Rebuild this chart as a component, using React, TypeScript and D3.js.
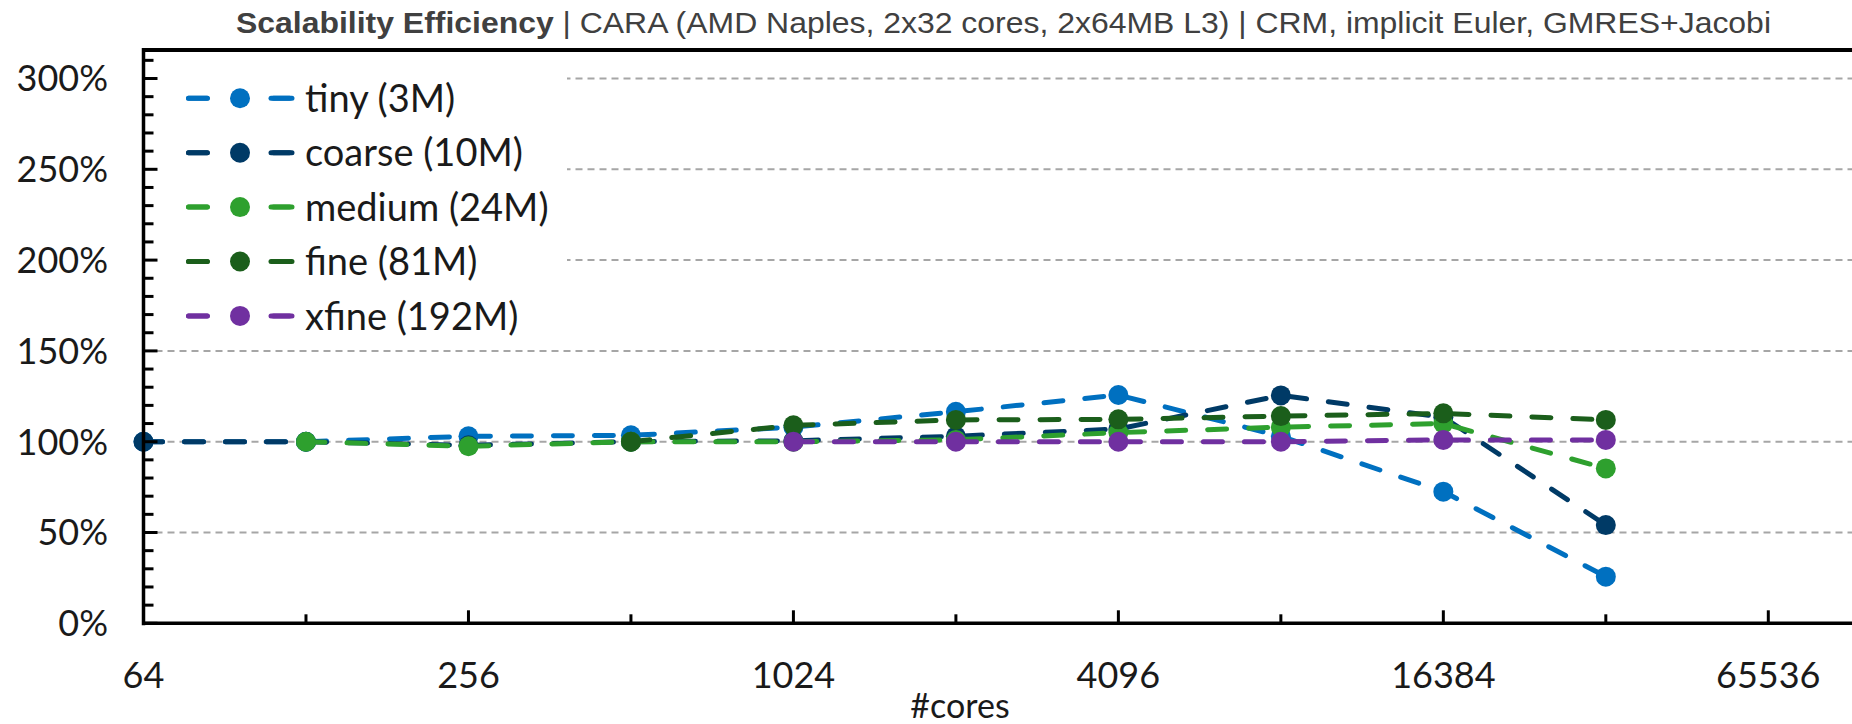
import React from "react";
import * as d3 from "d3";

const cores = [64, 128, 256, 512, 1024, 2048, 4096, 8192, 16384, 32768];
const seriesNames = ["tiny (3M)", "coarse (10M)", "medium (24M)", "fine (81M)", "xfine (192M)"];
const seriesColors = ["#0070C0", "#003A66", "#2EA02E", "#1B5E1B", "#7030A0"];
const tiny = [1.0, 1.0, 1.03, 1.035, 1.08, 1.165, 1.257, 1.03, 0.725, 0.257];
const coarse = [1.0, 1.0, 0.98, 1.0, 1.005, 1.03, 1.07, 1.255, 1.135, 0.541];
const medium = [null, 1.0, 0.975, 1.0, 1.0, 1.01, 1.05, 1.08, 1.1, 0.853];
const fine = [null, null, null, 1.0, 1.09, 1.12, 1.123, 1.141, 1.156, 1.12];
const xfine = [null, null, null, null, 1.0, 1.0, 1.0, 1.0, 1.01, 1.01];
const seriesValues = [tiny, coarse, medium, fine, xfine];
const xTickValues = [64, 256, 1024, 4096, 16384, 65536];
const yTickValues = [0, 0.5, 1, 1.5, 2, 2.5, 3];

const W = 1852;
const H = 724;
const left = 143.5;
const top = 50;
const bottom = 623.3;

export default function App() {
  const x = d3.scaleLog().base(2).domain([64, 65536]).range([left, 1768.3]);
  const y = d3.scaleLinear().domain([0, 3]).range([bottom, 78.5]);
  const minorX = d3.range(6, 17).map((e) => Math.pow(2, e));
  const minorY = d3.range(0, 32).map((i) => i / 10);
  const line = d3
    .line<number | null>()
    .defined((d) => d !== null)
    .x((_, i) => x(cores[i]))
    .y((d) => y(d as number));
  const legendX = 186;
  const legendY0 = 98.3;
  const legendStep = 54.4;

  return (
    <div style={{ position: "absolute", left: 0, top: 0 }}>
      <svg width={W} height={H} style={{ display: "block", background: "#fff" }}>
        {/* gridlines */}
        {yTickValues.slice(1).map((v) => (
          <line key={"g" + v} x1={left} x2={W} y1={y(v)} y2={y(v)} stroke="#a6a6a6" strokeWidth={2} strokeDasharray="7 5" />
        ))}
        {/* legend background */}
        <rect x={147} y={56} width={420} height={290} fill="#fff" />
        {/* series */}
        {seriesValues.map((vals, si) => (
          <g key={"s" + si}>
            <path d={line(vals) || ""} fill="none" stroke={seriesColors[si]} strokeWidth={5} strokeDasharray="19 22" strokeLinecap="round" />
            {vals.map((v, i) =>
              v === null ? null : <circle key={i} cx={x(cores[i])} cy={y(v)} r={10} fill={seriesColors[si]} />
            )}
          </g>
        ))}
        {/* axes */}
        <line x1={left} x2={W} y1={top} y2={top} stroke="#000" strokeWidth={4} />
        <line x1={left} x2={left} y1={top - 2} y2={bottom + 2} stroke="#000" strokeWidth={3.5} />
        <line x1={left - 1.5} x2={W} y1={bottom} y2={bottom} stroke="#000" strokeWidth={3.5} />
        {minorY.map((v, i) => (
          <line key={"yt" + i} x1={left} x2={left + (i % 5 === 0 ? 14 : 10)} y1={y(v)} y2={y(v)} stroke="#000" strokeWidth={3} />
        ))}
        {minorX.map((v, i) => (
          <line key={"xt" + i} x1={x(v)} x2={x(v)} y1={bottom} y2={bottom - (i % 2 === 0 ? 13 : 9)} stroke="#000" strokeWidth={3} />
        ))}
        {/* tick labels */}
        {yTickValues.map((v) => (
          <text key={"yl" + v} x={108} y={y(v)} dy="0.36em" textAnchor="end" fontFamily="Lato, sans-serif" fontSize={36} fill="#1a1a1a">
            {Math.round(v * 100) + "%"}
          </text>
        ))}
        {xTickValues.map((v) => (
          <text key={"xl" + v} x={x(v)} y={688} textAnchor="middle" fontFamily="Lato, sans-serif" fontSize={36} fill="#1a1a1a">
            {v}
          </text>
        ))}
        <text x={960} y={718} textAnchor="middle" fontFamily="Lato, sans-serif" fontSize={34} fill="#1a1a1a">
          #cores
        </text>
        {/* title */}
        <text x={236} y={33} fontFamily="'Liberation Sans', Arial, sans-serif" fontSize={30} fill="#404040" textLength={1535} lengthAdjust="spacingAndGlyphs">
          <tspan fontWeight="bold">Scalability Efficiency</tspan>
          <tspan> | CARA (AMD Naples, 2x32 cores, 2x64MB L3) | CRM, implicit Euler, GMRES+Jacobi</tspan>
        </text>
        {/* legend */}
        {seriesNames.map((name, si) => {
          const ly = legendY0 + si * legendStep;
          return (
            <g key={"lg" + si}>
              <line x1={legendX} x2={292} y1={ly} y2={ly} stroke={seriesColors[si]} strokeWidth={5} strokeDasharray="19 66" strokeLinecap="round" strokeDashoffset={-2.5} />
              <line x1={legendX + 2.5} x2={legendX + 21} y1={ly} y2={ly} stroke={seriesColors[si]} strokeWidth={5} strokeLinecap="round" />
              <line x1={271} x2={289.5} y1={ly} y2={ly} stroke={seriesColors[si]} strokeWidth={5} strokeLinecap="round" />
              <circle cx={240} cy={ly} r={10} fill={seriesColors[si]} />
              <text x={305} y={ly} dy="0.36em" fontFamily="Lato, sans-serif" fontSize={38} fill="#1a1a1a">
                {name}
              </text>
            </g>
          );
        })}
      </svg>
    </div>
  );
}
